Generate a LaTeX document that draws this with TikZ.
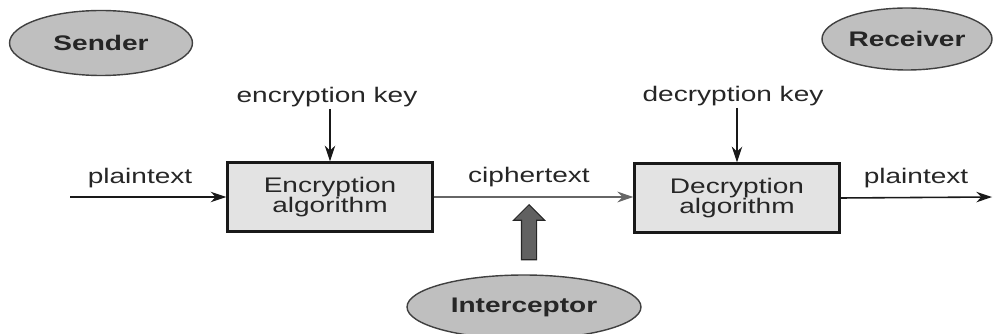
\documentclass[tikz,border=0pt]{standalone}
\usepackage{fontspec}
\setmainfont[FakeStretch=1.33]{Liberation Sans}
\usetikzlibrary{shapes.geometric,shapes.arrows,arrows.meta}

\begin{document}
\begin{tikzpicture}[x=0.02cm,y=-0.02cm,
        party/.style={ellipse,draw=black!75,line width=0.8pt,fill=black!25,inner sep=0pt,
                      font=\fontsize{12}{12}\selectfont\bfseries,text=black!85},
        algo/.style={rectangle,draw=black!90,line width=1.3pt,fill=black!11,minimum width=4.1cm,
                     minimum height=1.38cm,align=center,font=\fontsize{12}{11.3}\selectfont,text=black!85},
        lbl/.style={inner sep=1pt,font=\fontsize{12}{12}\selectfont,text=black!85},
        flow/.style={-{Stealth[length=9pt,width=6pt]},line width=0.9pt,draw=black!90}]
        \clip (0,0) rectangle (993,334);
        % parties
        \node[party,minimum width=3.66cm,minimum height=1.3cm] (sender) at (101,43) {Sender};
        \node[party,minimum width=3.4cm,minimum height=1.24cm] (receiver) at (907,39) {Receiver};
        \node[party,minimum width=4.68cm,minimum height=1.28cm] (interceptor) at (524,307) {Interceptor};
        % algorithms
        \node[algo] (enc) at (330,197) {Encryption\\algorithm};
        \node[algo] (dec) at (737,198) {Decryption\\algorithm};
        % labels
        \node[lbl] (enckey) at (327,97) {encryption key};
        \node[lbl] (deckey) at (733,96) {decryption key};
        \node[lbl] (plainin) at (140,178) {plaintext};
        \node[lbl] (cipher) at (529,177) {ciphertext};
        \node[lbl] (plainout) at (916,178) {plaintext};
        \coordinate (src) at (70,197);
        \coordinate (dst) at (992,197);
        % arrows
        \draw[flow] (src) -- (enc.west);
        \draw[flow] (enckey.south -| enc.north) -- (enc.north);
        \draw[flow] (deckey.south -| dec.north) -- (dec.north);
        \draw[flow] (dec.east) -- (dst);
        \draw[flow,draw=black!60,line width=1.6pt] (enc.east) -- (dec.west |- enc.east);
        \node[single arrow,shape border rotate=90,draw=black!85,fill=black!62,line width=0.6pt,
              inner sep=0.14cm,single arrow head extend=0.16cm,minimum height=1.1cm] (tap) at (529,236) {};
\end{tikzpicture}
\end{document}
